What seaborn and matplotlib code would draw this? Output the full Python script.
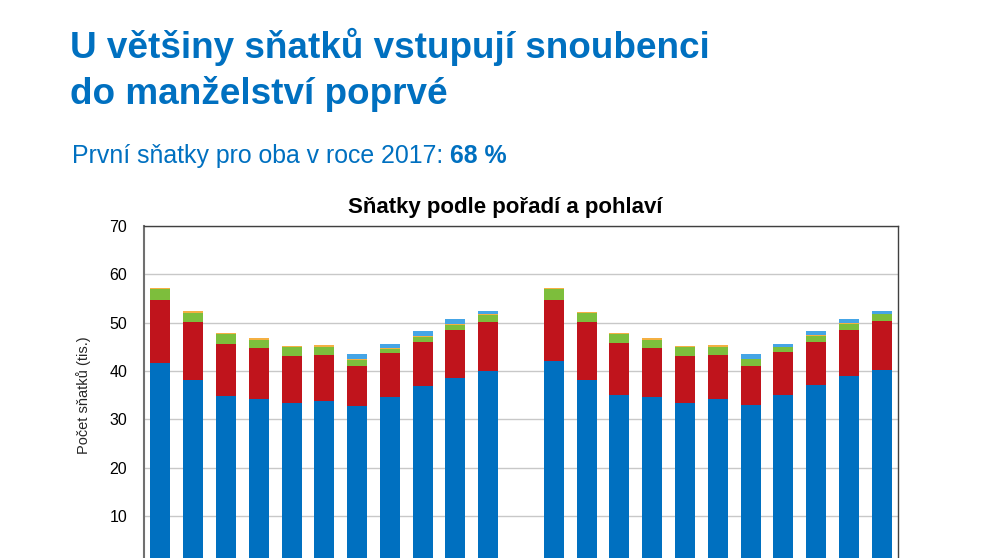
import numpy as np
import pandas as pd
import matplotlib
matplotlib.use("Agg")
import matplotlib.pyplot as plt
import seaborn as sns

# ---- data (thousands of marriages) ----
years = [str(y) for y in range(2007, 2018)]
groups = ["muži", "ženy"]
layers = ["první", "druhý", "třetí", "čtvrtý a další", "nezjištěno"]

men_first = [41.7, 38.1, 34.8, 34.3, 33.3, 33.8, 32.7, 34.7, 36.9, 38.6, 40.0]
men_second = [13.0, 12.0, 10.8, 10.5, 9.9, 9.5, 8.4, 9.1, 9.0, 9.8, 10.2]
men_third = [2.2, 2.0, 2.1, 1.7, 1.7, 1.7, 1.2, 0.8, 1.2, 1.2, 1.4]
men_fourth = [0.3, 0.3, 0.2, 0.3, 0.3, 0.3, 0.1, 0.1, 0.1, 0.1, 0.1]
men_unknown = [0.0, 0.0, 0.0, 0.0, 0.0, 0.0, 1.1, 0.8, 1.0, 1.0, 0.8]

women_first = [42.1, 38.1, 35.1, 34.7, 33.4, 34.1, 32.9, 35.1, 37.0, 39.0, 40.3]
women_second = [12.6, 12.1, 10.7, 10.1, 9.8, 9.3, 8.2, 8.8, 9.1, 9.4, 10.0]
women_third = [2.2, 1.9, 1.8, 1.7, 1.7, 1.6, 1.3, 1.0, 1.2, 1.4, 1.4]
women_fourth = [0.3, 0.05, 0.3, 0.3, 0.2, 0.3, 0.1, 0.1, 0.1, 0.1, 0.1]
women_unknown = [0.0, 0.0, 0.0, 0.0, 0.0, 0.0, 1.0, 0.5, 0.8, 0.8, 0.7]

yticks = [0, 10, 20, 30, 40, 50, 60, 70]

colors = ["#0070C0", "#C0141C", "#7DBE3C", "#F4B042", "#45A5E6"]

# ---- build long table ----
series = {
    "muži": [men_first, men_second, men_third, men_fourth, men_unknown],
    "ženy": [women_first, women_second, women_third, women_fourth, women_unknown],
}
rows = []
for g in groups:
    cum = np.cumsum(np.array(series[g]), axis=0)
    for li, lname in enumerate(layers):
        for yi, yr in enumerate(years):
            rows.append({"slot": f"{g} {yr}", "layer": lname, "cum": cum[li, yi]})
df = pd.DataFrame(rows)
order = [f"muži {y}" for y in years] + [" "] + [f"ženy {y}" for y in years]

# ---- figure ----
sns.set_theme(style="white")
plt.rcParams["font.family"] = ["Liberation Sans", "DejaVu Sans"]

fig = plt.figure(figsize=(9.91, 5.58), dpi=100)
ax = fig.add_axes([0.1453, -0.0113, 0.7609, 0.6063])

for li in range(len(layers) - 1, -1, -1):
    sub = df[df["layer"] == layers[li]]
    sns.barplot(data=sub, x="slot", y="cum", order=order, color=colors[li],
                saturation=1, width=0.61, ax=ax, errorbar=None,
                linewidth=0, edgecolor="none", zorder=3 + (len(layers) - li))

ax.set_ylim(0, 70)
ax.set_yticks(yticks)
ax.set_yticklabels([str(t) for t in yticks], fontsize=11.5, color="#000000")
ax.set_xticks(range(len(order)))
ax.set_xticklabels([""] * len(order))
ax.tick_params(axis="both", length=0, pad=12)
ax.yaxis.grid(True, color="#C8C8C8", linewidth=1.0, zorder=0)
ax.set_axisbelow(True)
ax.set_xlabel("")
ax.set_ylabel("Počet sňatků (tis.)", fontsize=10.5, labelpad=13)
for side in ["left", "right", "top", "bottom"]:
    ax.spines[side].set_visible(True)
    ax.spines[side].set_color("#404040")
    ax.spines[side].set_linewidth(1.0)
ax.spines["left"].set_color("#707070")
ax.spines["left"].set_linewidth(1.5)

blue = "#0070C0"
fig.text(70 / 991, 1 - 58 / 558, "U většiny sňatků vstupují snoubenci",
         fontsize=26.6, fontweight="bold", color=blue, va="baseline", ha="left")
fig.text(70 / 991, 1 - 104 / 558, "do manželství poprvé",
         fontsize=26.6, fontweight="bold", color=blue, va="baseline", ha="left")
sub1 = fig.text(72 / 991, 1 - 163.3 / 558, "První sňatky pro oba v roce 2017: ",
                fontsize=17.9, color=blue, va="baseline", ha="left")
fig.canvas.draw()
bb = sub1.get_window_extent()
x_end = bb.x1 / fig.bbox.width
fig.text(x_end, 1 - 163.3 / 558, "68 %", fontsize=17.9, fontweight="bold",
         color=blue, va="baseline", ha="left")
fig.text(505 / 991, 1 - 213 / 558, "Sňatky podle pořadí a pohlaví",
         fontsize=16, fontweight="bold", color="#000000", va="baseline", ha="center")

fig.savefig("out.png", dpi=100)
